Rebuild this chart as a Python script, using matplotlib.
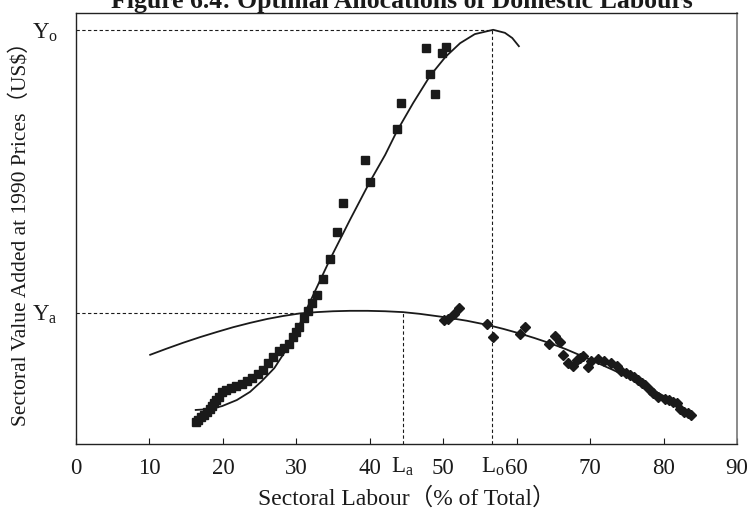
import matplotlib
matplotlib.use("Agg")
import matplotlib.pyplot as plt
import matplotlib.transforms as mtransforms

# ==========================================
# DATA (arbitrary y units)
# ==========================================
# square markers (upper series)
sq_x = [16.3, 16.6, 17.0, 17.4, 17.8, 18.2, 18.5, 18.8, 19.1, 19.5,
        19.9, 20.4, 21.1, 21.8, 22.6, 23.3, 24.0, 24.8, 25.5, 26.1,
        26.8, 27.6, 28.3, 29.0, 29.5, 30.0, 30.4, 31.0, 31.6, 32.1,
        32.8, 33.6, 34.6, 35.5, 36.4, 39.4, 40.0, 43.7, 44.3, 48.9,
        48.2, 47.7, 49.8, 50.4]
sq_y = [5.1, 5.6, 6.2, 6.7, 7.4, 8.1, 8.8, 9.5, 10.2, 10.9,
        12.1, 12.5, 13.0, 13.5, 13.9, 14.6, 15.3, 16.2, 17.2, 18.8,
        20.2, 21.6, 22.3, 23.2, 24.8, 26.0, 27.1, 29.2, 30.9, 32.7,
        34.6, 38.3, 42.9, 49.2, 55.9, 65.9, 60.8, 73.1, 79.1, 81.2,
        85.8, 91.9, 90.7, 92.1]

# diamond markers (lower series)
dm_x = [50.1, 50.7, 51.5, 52.2, 56.0, 56.8, 60.5, 61.1, 64.4, 65.2,
        65.9, 66.3, 67.0, 67.7, 68.2, 68.6, 69.0, 69.7, 70.1, 71.1,
        71.9, 72.9, 73.7, 74.2, 74.9, 75.4, 76.0, 76.5, 77.1, 77.5,
        78.2, 78.6, 79.3, 80.2, 80.8, 81.3, 81.8, 82.2, 82.8, 83.3,
        83.7]
dm_y = [28.8, 29.0, 30.2, 31.6, 27.8, 24.8, 25.5, 27.2, 23.2, 25.1,
        23.7, 20.7, 18.8, 18.1, 19.5, 20.0, 20.4, 17.9, 19.3, 19.7,
        19.3, 18.8, 18.1, 16.9, 16.5, 16.0, 15.6, 14.9, 14.2, 13.7,
        12.5, 11.8, 10.9, 10.4, 10.2, 9.7, 9.5, 8.1, 7.4, 7.2,
        6.7]

# trend curves as drawn in the figure
sq_fit_x = [16.3, 18.3, 19.9, 21.9, 23.7, 25.3, 27.0, 28.6, 30.1, 31.1,
            32.5, 34.6, 37.3, 40.0, 42.1, 43.7, 45.9, 48.2, 50.3, 52.3,
            54.3, 56.8, 58.4, 59.4, 60.3]
sq_fit_y = [7.9, 8.1, 8.8, 10.2, 12.1, 14.6, 17.6, 21.8, 26.5, 30.2,
            35.3, 42.9, 52.0, 60.8, 67.1, 72.6, 79.1, 85.4, 89.8, 93.0,
            95.1, 96.1, 95.4, 94.2, 92.3]
dm_fit_x = [10.1, 12.3, 14.6, 16.9, 19.2, 21.4, 23.7, 26.0, 28.2, 30.5,
            32.8, 35.0, 37.3, 39.7, 42.1, 44.5, 46.8, 50.3, 53.2, 56.1,
            58.2, 60.3, 62.4, 64.5, 66.7, 68.9, 71.0, 73.1, 75.2, 77.2,
            78.9, 80.5, 82.1, 83.6]
dm_fit_y = [20.7, 22.1, 23.5, 24.8, 26.0, 27.1, 28.1, 29.0, 29.7, 30.3,
            30.6, 30.8, 30.9, 30.9, 30.8, 30.6, 30.2, 29.4, 28.6, 27.6,
            26.7, 25.7, 24.6, 23.4, 22.0, 20.4, 18.8, 17.2, 15.5, 13.7,
            12.2, 10.7, 8.9, 7.0]

Y_O = 96.1
Y_A = 30.5
L_A = 44.5
L_O = 56.7
CROSS_X = 30.5
x_ticks = [0, 10, 20, 30, 40, 50, 60, 70, 80, 90]

TITLE = "Figure 6.4: Optimal Allocations of Domestic Labours"
XLABEL = "Sectoral Labour（% of Total）"
YLABEL = "Sectoral Value Added at 1990 Prices（US$）"

# ==========================================
# STYLE
# ==========================================
FONTS = ["Liberation Serif", "Noto Sans CJK SC", "DejaVu Serif"]
plt.rcParams["font.family"] = FONTS
plt.rcParams["mathtext.fontset"] = "custom"
plt.rcParams["mathtext.rm"] = "Liberation Serif"
plt.rcParams["mathtext.it"] = "Liberation Serif:italic"
INK = "#1a1a1a"
TICK_FS = 16.5

fig = plt.figure(figsize=(7.51, 5.13), dpi=100)
ax = fig.add_axes([76 / 751, 69 / 513, 661 / 751, 431 / 513])

# trend curves
ax.plot(sq_fit_x, sq_fit_y, color=INK, lw=1.3, zorder=2)
ax.plot(dm_fit_x, dm_fit_y, color=INK, lw=1.3, zorder=2)

# scatter
ax.plot(sq_x, sq_y, ls="none", marker="s", ms=6.3, color=INK, zorder=3)
ax.plot(dm_x, dm_y, ls="none", marker="D", ms=4.6, color=INK, zorder=3)

# guide lines
dash = dict(color=INK, lw=0.8, ls=(0, (3, 2.2)), zorder=1)
ax.plot([0, L_O], [Y_O, Y_O], **dash)
ax.plot([L_O, L_O], [0, Y_O], **dash)
ax.plot([0, CROSS_X], [Y_A, Y_A], **dash)
ax.plot([L_A, L_A], [0, Y_A], **dash)

ax.set_xlim(0, 90)
ax.set_ylim(0, 100)

ax.set_xticks(x_ticks)
ax.set_xticklabels([str(t) for t in x_ticks])
ax.tick_params(axis="x", direction="in", length=4, width=0.8, pad=10,
               labelsize=TICK_FS, colors=INK)

ax.set_yticks([Y_A, Y_O])
ax.set_yticklabels([r"$\mathrm{Y}_{\mathrm{a}}$", r"$\mathrm{Y}_{\mathrm{o}}$"])
ax.tick_params(axis="y", length=0, pad=13, labelsize=TICK_FS, colors=INK)

for side in ["left", "bottom", "top"]:
    ax.spines[side].set_color("#222222")
    ax.spines[side].set_linewidth(1.0)
ax.spines["right"].set_color("#777777")
ax.spines["right"].set_linewidth(1.2)

# L_a / L_o labels in the tick-label row
trans = mtransforms.blended_transform_factory(ax.transData, ax.transAxes)
ax.text(L_A, -0.028, r"$\mathrm{L}_{\mathrm{a}}$", transform=trans,
        ha="center", va="top", fontsize=TICK_FS, color=INK)
ax.text(L_O, -0.028, r"$\mathrm{L}_{\mathrm{o}}$", transform=trans,
        ha="center", va="top", fontsize=TICK_FS, color=INK)

ax.set_xlabel(XLABEL, fontsize=17, color=INK, labelpad=6)
ax.set_ylabel(YLABEL, fontsize=15.5, color=INK)
ax.yaxis.set_label_coords(-0.068, 0.5)

# title sits mostly above the canvas, as in the reference
fig.text(402 / 751, 1 - 8 / 513, TITLE, ha="center", va="baseline",
         fontsize=18.5, fontweight="bold", color=INK)

fig.savefig("out.png", dpi=100)
